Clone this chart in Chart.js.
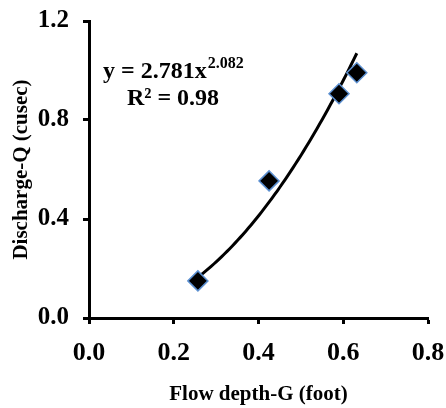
<!DOCTYPE html>
<html>
<head>
<meta charset="utf-8">
<script src="https://cdn.jsdelivr.net/npm/chart.js@4.4.1/dist/chart.umd.min.js"></script>
<style>
  html, body { margin: 0; padding: 0; background: #fff; }
  #wrap { width: 446px; height: 408px; }
</style>
</head>
<body>
<div id="wrap"><canvas id="c" width="446" height="408"></canvas></div>
<script>
// measured flow depth vs discharge
const flowDepth = [0.257, 0.425, 0.590, 0.632];
const discharge = [0.150, 0.554, 0.906, 0.991];

// power trendline y = a * x^b, as reported on the chart
const trendA = 2.781;
const trendB = 2.082;
const trendR2 = 0.98;

const xTicks = [0.0, 0.2, 0.4, 0.6, 0.8];
const yTicks = [0.0, 0.4, 0.8, 1.2];

const FONT = '"Liberation Serif", "Times New Roman", serif';

// curve points along the fitted power law between the measured extremes
const trendPoints = [];
(function () {
    const x0 = Math.min(...flowDepth);
    const x1 = Math.max(...flowDepth);
    const n = 60;
    for (let i = 0; i <= n; i++) {
        const x = x0 + (x1 - x0) * i / n;
        trendPoints.push({ x: x, y: trendA * Math.pow(x, trendB) });
    }
})();

// equation + R² label in the upper left of the plot
const equationLabel = {
    id: 'equationLabel',
    afterDatasetsDraw(chart) {
        const ctx = chart.ctx;
        const base = 'y = ' + trendA.toFixed(3) + 'x';
        const sup = trendB.toFixed(3);
        ctx.save();
        ctx.fillStyle = '#000';
        ctx.textBaseline = 'alphabetic';
        ctx.textAlign = 'left';
        ctx.font = 'bold 24px ' + FONT;
        const x = 103;
        ctx.fillText(base, x, 78);
        const w = ctx.measureText(base).width;
        ctx.font = 'bold 16px ' + FONT;
        ctx.fillText(sup, x + w + 1, 68);
        ctx.font = 'bold 24px ' + FONT;
        ctx.textAlign = 'center';
        ctx.fillText('R² = ' + trendR2.toFixed(2), 173, 105);
        ctx.restore();
    }
};

new Chart(document.getElementById('c'), {
    type: 'scatter',
    data: {
        datasets: [
            {
                type: 'line',
                data: trendPoints,
                borderColor: '#000',
                borderWidth: 3,
                pointRadius: 0,
                fill: false,
                tension: 0,
                order: 2
            },
            {
                data: flowDepth.map((d, i) => ({ x: d, y: discharge[i] })),
                pointStyle: 'rectRot',
                pointRadius: 10,
                pointBackgroundColor: '#000',
                pointBorderColor: '#5b8fd0',
                pointBorderWidth: 1.5,
                order: 1
            }
        ]
    },
    options: {
        responsive: false,
        animation: false,
        layout: { padding: { top: 21, right: 18, left: 0, bottom: 0 } },
        plugins: {
            legend: { display: false },
            tooltip: { enabled: false }
        },
        scales: {
            x: {
                type: 'linear',
                min: 0,
                max: 0.8,
                afterBuildTicks: (s) => { s.ticks = xTicks.map(v => ({ value: v })); },
                afterFit: (s) => { s.height = 90; s.paddingLeft = 0; s.paddingRight = 0; },
                border: { display: true, color: '#000', width: 3 },
                grid: { drawOnChartArea: false, drawTicks: true, tickLength: 6, tickWidth: 3, color: '#000' },
                ticks: {
                    padding: 14,
                    color: '#000',
                    font: { family: FONT, size: 26, weight: 'bold' },
                    callback: (v) => Number(v).toFixed(1)
                },
                title: {
                    display: true,
                    text: 'Flow depth-G (foot)',
                    color: '#000',
                    font: { family: FONT, size: 21, weight: 'bold' },
                    padding: { top: 14, bottom: 1 }
                }
            },
            y: {
                type: 'linear',
                min: 0,
                max: 1.2,
                afterBuildTicks: (s) => { s.ticks = yTicks.map(v => ({ value: v })); },
                afterFit: (s) => { s.width = 89; s.paddingTop = 0; s.paddingBottom = 0; },
                border: { display: true, color: '#000', width: 3 },
                grid: { drawOnChartArea: false, drawTicks: true, tickLength: 6, tickWidth: 3, color: '#000' },
                ticks: {
                    padding: 14,
                    color: '#000',
                    font: { family: FONT, size: 25, weight: 'bold' },
                    callback: (v) => Number(v).toFixed(1)
                },
                title: {
                    display: true,
                    text: 'Discharge-Q (cusec)',
                    color: '#000',
                    font: { family: FONT, size: 21, weight: 'bold' },
                    padding: { top: 9, bottom: 0 }
                }
            }
        }
    },
    plugins: [equationLabel]
});
</script>
</body>
</html>
